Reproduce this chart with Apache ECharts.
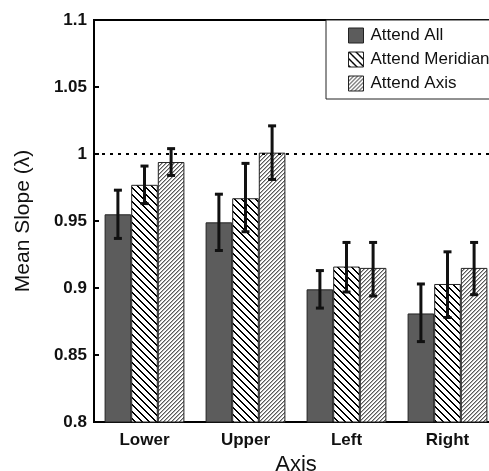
<!DOCTYPE html>
<html><head><meta charset="utf-8">
<script src="https://cdn.jsdelivr.net/npm/echarts@6/dist/echarts.min.js"></script>
<style>html,body{margin:0;padding:0;background:#fff}#c{width:489px;height:471px}</style>
</head><body><div id="c"></div>
<script>
var categories = ['Lower', 'Upper', 'Left', 'Right'];
var seriesNames = ['Attend All', 'Attend Meridian', 'Attend Axis'];
var allMean = [0.955, 0.949, 0.899, 0.881];
var allLow  = [0.937, 0.928, 0.885, 0.860];
var allHigh = [0.973, 0.970, 0.913, 0.903];
var merMean = [0.977, 0.967, 0.916, 0.903];
var merLow  = [0.963, 0.942, 0.897, 0.878];
var merHigh = [0.991, 0.993, 0.934, 0.927];
var axMean  = [0.994, 1.001, 0.915, 0.915];
var axLow   = [0.984, 0.981, 0.894, 0.895];
var axHigh  = [1.004, 1.021, 0.934, 0.934];
var yTicks = [0.8, 0.85, 0.9, 0.95, 1, 1.05, 1.1];
var refLine = 1;

var FONT = '"Liberation Sans", Arial, sans-serif';
var catGap = 0.21;

function makePattern(size, fn) {
  var c = document.createElement('canvas');
  c.width = size; c.height = size;
  var ctx = c.getContext('2d');
  ctx.fillStyle = '#fff'; ctx.fillRect(0, 0, size, size);
  for (var y = 0; y < size; y++) for (var x = 0; x < size; x++) {
    var col = fn(x, y);
    if (col) { ctx.fillStyle = col; ctx.fillRect(x, y, 1, 1); }
  }
  return c;
}
var merPat = makePattern(7, function (x, y) {
  var d = ((x - y) % 7 + 7) % 7;
  return (d === 0 || d === 1) ? '#000' : null;
});
var axPat = makePattern(4, function (x, y) {
  var d = (x + y) % 4;
  if (d === 0) return '#5a5a5a';
  if (d === 1) return '#b0b0b0';
  return null;
});

var colors = ['#5c5c5c', {image: merPat, repeat: 'repeat'}, {image: axPat, repeat: 'repeat'}];
var means = [allMean, merMean, axMean];
var lows = [allLow, merLow, axLow];
var highs = [allHigh, merHigh, axHigh];

var series = [];
seriesNames.forEach(function (name, si) {
  series.push({
    name: name, type: 'bar', data: means[si], barGap: '0%', barCategoryGap: (catGap * 100) + '%',
    itemStyle: {color: colors[si], borderColor: '#222', borderWidth: 1},
    z: 3
  });
});
series.push({
  type: 'line', data: [], z: 1,
  markLine: {
    silent: true, symbol: 'none', label: {show: false},
    lineStyle: {color: '#000', type: [3, 5], width: 2},
    data: [{yAxis: refLine}]
  }
});
seriesNames.forEach(function (name, si) {
  var data = categories.map(function (c, i) { return [i, lows[si][i], highs[si][i]]; });
  series.push({
    type: 'custom', z: 5,
    renderItem: function (params, api) {
      var cat = api.value(0);
      var p1 = api.coord([cat, api.value(1)]);
      var p2 = api.coord([cat, api.value(2)]);
      var band = api.size([1, 0])[0];
      var bw = band * (1 - catGap) / 3;
      var x = p1[0] + (si - 1) * bw;
      var cap = 4;
      var st = {stroke: '#111', lineWidth: 3};
      return {type: 'group', children: [
        {type: 'line', shape: {x1: x, y1: p1[1], x2: x, y2: p2[1]}, style: st},
        {type: 'line', shape: {x1: x - cap, y1: p1[1], x2: x + cap, y2: p1[1]}, style: st},
        {type: 'line', shape: {x1: x - cap, y1: p2[1], x2: x + cap, y2: p2[1]}, style: st}
      ]};
    },
    encode: {x: 0, y: [1, 2]},
    data: data
  });
});

var chart = echarts.init(document.getElementById('c'), null, {renderer: 'canvas'});
chart.setOption({
  animation: false,
  backgroundColor: '#fff',
  textStyle: {fontFamily: FONT},
  grid: {left: 94, top: 20, right: -9, bottom: 49, outerBoundsMode: 'none', containLabel: false,
    show: true, borderColor: '#000', borderWidth: 2, backgroundColor: 'transparent'},
  legend: {
    data: seriesNames, orient: 'vertical', left: 326, top: 20, icon: 'rect',
    itemWidth: 15, itemHeight: 15, itemGap: 7,
    padding: [7, 40, 7, 22],
    backgroundColor: '#fff', borderColor: '#222', borderWidth: 1, borderRadius: 0,
    textStyle: {fontFamily: FONT, fontSize: 17, color: '#111', padding: [0, 0, 0, 2]},
    itemStyle: {borderColor: '#222', borderWidth: 1}
  },
  xAxis: {
    type: 'category', data: categories,
    name: 'Axis', nameLocation: 'middle', nameGap: 29,
    nameTextStyle: {fontFamily: FONT, fontSize: 22, color: '#111'},
    axisLine: {lineStyle: {color: '#000', width: 2}},
    axisTick: {inside: true, length: 5, interval: 0, lineStyle: {color: '#000', width: 2}},
    axisLabel: {fontFamily: FONT, fontSize: 17, fontWeight: 'bold', color: '#111', margin: 10}
  },
  yAxis: {
    type: 'value', min: yTicks[0], max: yTicks[yTicks.length - 1], interval: 0.05,
    name: 'Mean Slope (λ)', nameLocation: 'middle', nameGap: 60,
    nameTextStyle: {fontFamily: FONT, fontSize: 21, color: '#111'},
    axisLine: {show: true, lineStyle: {color: '#000', width: 2}},
    axisTick: {show: true, inside: true, length: 5, lineStyle: {color: '#000', width: 2}},
    splitLine: {show: false},
    axisLabel: {fontFamily: FONT, fontSize: 17, fontWeight: 'bold', color: '#111', margin: 7,
      formatter: function (v) { return String(parseFloat(v.toFixed(2))); }}
  },
  series: series
});
</script>
</body></html>
